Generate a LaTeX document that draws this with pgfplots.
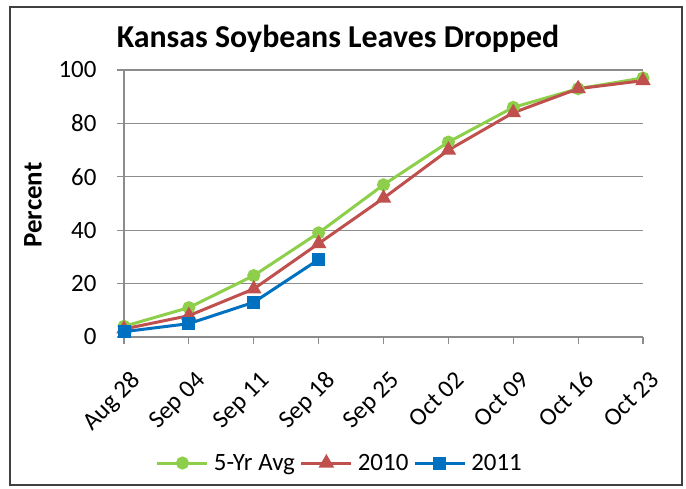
\documentclass[border=0pt]{standalone}
\usepackage{pgfplots}
\pgfplotsset{compat=1.18}
\usepackage{fontspec}
\setmainfont{Carlito}
\definecolor{avggreen}{HTML}{8DCF4A}
\definecolor{redten}{HTML}{C0504D}
\definecolor{blueeleven}{HTML}{0070C0}
\begin{document}
\begin{tikzpicture}[x=1bp,y=1bp]
\path[use as bounding box] (0,0) rectangle (686,489);
\draw[line width=2bp, draw=black!75] (10,4) rectangle (682,482);
\node[font=\fontsize{32}{36}\selectfont\bfseries] at (338,450) {Kansas Soybeans Leaves Dropped};
\node[font=\fontsize{27}{30}\selectfont\bfseries, rotate=90] at (33,284) {Percent};
\begin{axis}[
    at={(124bp,152bp)}, anchor=south west,
    scale only axis, width=519bp, height=267bp,
    xmin=0, xmax=8, ymin=0, ymax=100,
    xtick={0,...,8},
    xticklabels={Aug 28,Sep 04,Sep 11,Sep 18,Sep 25,Oct 02,Oct 09,Oct 16,Oct 23},
    ytick={0,20,...,100},
    axis lines*=left,
    axis line style={draw=black!45, line width=1.2bp},
    tick align=outside,
    major tick length=7bp,
    tick style={draw=black!45, line width=1.2bp},
    ymajorgrids,
    grid style={draw=black!45, line width=1.2bp},
    clip=false,
    /pgf/number format/assume math mode=true,
    ticklabel style={font=\fontsize{25}{28}\selectfont},
    y tick label style={xshift=-17bp},
    x tick label style={rotate=45, anchor=north east, inner sep=1bp, xshift=-13bp, yshift=-21bp},
    legend columns=3,
    legend style={at={(0.416,-0.472)}, anchor=center, draw=none,
        font=\fontsize{25}{28}\selectfont, column sep=3bp, inner sep=0pt},
    legend image code/.code={
        \draw[mark repeat=2,mark phase=2] plot coordinates {(0bp,0bp) (25bp,0bp) (50bp,0bp)};},
    every axis plot/.append style={line width=3bp},
]
\addplot[color=avggreen, mark=*, mark size=5bp] coordinates {
(0,4)(1,11)(2,23)(3,39)(4,57)(5,73)(6,86)(7,93)(8,97)};
\addlegendentry{5-Yr Avg}
\addplot[color=redten, mark=triangle*, mark size=6bp] coordinates {
(0,3)(1,8)(2,18)(3,35)(4,52)(5,70)(6,84)(7,93)(8,96)};
\addlegendentry{2010}
\addplot[color=blueeleven, mark=square*, mark size=5bp] coordinates {
(0,2)(1,5)(2,13)(3,29)};
\addlegendentry{2011}
\end{axis}
\end{tikzpicture}
\end{document}
